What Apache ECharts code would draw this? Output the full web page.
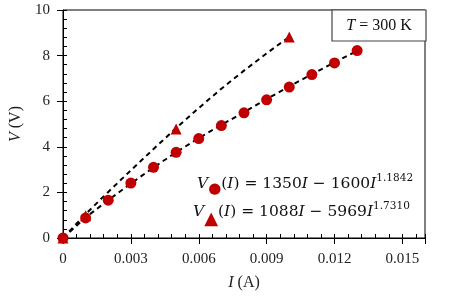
<!DOCTYPE html>
<html>
<head>
<meta charset="utf-8">
<script src="https://cdn.jsdelivr.net/npm/echarts@6/dist/echarts.min.js"></script>
<style>html,body{margin:0;padding:0;background:#fff}#c{width:457px;height:302px}</style>
</head>
<body>
<div id="c"></div>
<script>
// Data
const circleI = [0, 0.001, 0.002, 0.003, 0.004, 0.005, 0.006, 0.007, 0.008, 0.009, 0.010, 0.011, 0.012, 0.013];
const circleV = [0, 0.88, 1.66, 2.41, 3.10, 3.76, 4.36, 4.93, 5.49, 6.06, 6.62, 7.17, 7.68, 8.22];
const triI = [0, 0.001, 0.005, 0.010];
const triV = [0, 0.98, 4.78, 8.82];
const fitCircleI = [0, 0.001, 0.002, 0.003, 0.004, 0.005, 0.006, 0.007, 0.008, 0.009, 0.010, 0.011, 0.012, 0.013];
const fitCircleV = [0, 0.90, 1.66, 2.39, 3.09, 3.76, 4.38, 4.96, 5.52, 6.09, 6.65, 7.18, 7.70, 8.21];
const fitTriI = [0, 0.001, 0.002, 0.003, 0.004, 0.005, 0.006, 0.007, 0.008, 0.009, 0.010];
const fitTriV = [0, 1.05, 2.02, 2.97, 3.90, 4.82, 5.70, 6.55, 7.34, 8.10, 8.82];
const xTickLabels = ['0', '0.003', '0.006', '0.009', '0.012', '0.015'];
const yTickLabels = ['0', '2', '4', '6', '8', '10'];

const RED = '#C00000';
const SERIF = '"Liberation Serif","Times New Roman",serif';
const MATH = '"DejaVu Serif",serif';
const zip = (a, b) => a.map((v, i) => [v, b[i]]);

const chart = echarts.init(document.getElementById('c'), null, {renderer: 'canvas'});
const grid = {left: 63, right: 32, top: 10, bottom: 64, show: true, borderColor: '#000', borderWidth: 1, backgroundColor: 'transparent'};
const xBase = {type: 'value', min: 0, max: 0.016, interval: 0.003, gridIndex: 0, splitLine: {show: false}};
const yBase = {type: 'value', min: 0, max: 10, interval: 2, gridIndex: 0, splitLine: {show: false}};

chart.setOption({
  animation: false,
  grid: grid,
  xAxis: [
    Object.assign({}, xBase, {
      position: 'bottom',
      axisLine: {show: true, lineStyle: {color: '#000', width: 1}},
      axisTick: {show: true, inside: false, length: 6, lineStyle: {color: '#000'}},
      minorTick: {show: false},
      axisLabel: {
        color: '#222', fontFamily: SERIF, fontSize: 15, margin: 14,
        formatter: function (v) { const k = Math.round(v / 0.003); return Math.abs(v - k * 0.003) < 1e-9 && k < xTickLabels.length ? xTickLabels[k] : ''; }
      },
      name: '{i|I} (A)', nameLocation: 'middle', nameGap: 37,
      nameTextStyle: {fontFamily: SERIF, fontSize: 16, color: '#222', rich: {i: {fontStyle: 'italic', fontFamily: SERIF, fontSize: 16, color: '#222'}}}
    }),
    Object.assign({}, xBase, {
      position: 'bottom',
      axisLine: {show: false},
      axisTick: {show: true, inside: true, length: 4, lineStyle: {color: '#000'}},
      minorTick: {show: true, splitNumber: 5, length: 4, lineStyle: {color: '#000'}},
      axisLabel: {show: false}
    })
  ],
  yAxis: [
    Object.assign({}, yBase, {
      position: 'left',
      axisLine: {show: true, lineStyle: {color: '#000', width: 1}},
      axisTick: {show: true, inside: false, length: 6, lineStyle: {color: '#000'}},
      minorTick: {show: false},
      axisLabel: {
        color: '#222', fontFamily: SERIF, fontSize: 15, margin: 13,
        formatter: function (v) { const k = Math.round(v / 2); return yTickLabels[k] || ''; }
      },
      name: '{i|V} (V)', nameLocation: 'middle', nameGap: 36, nameRotate: 90,
      nameTextStyle: {fontFamily: SERIF, fontSize: 16, color: '#222', rich: {i: {fontStyle: 'italic', fontFamily: SERIF, fontSize: 16, color: '#222'}}}
    }),
    Object.assign({}, yBase, {
      position: 'left',
      axisLine: {show: false},
      axisTick: {show: true, inside: true, length: 4, lineStyle: {color: '#000'}},
      minorTick: {show: true, splitNumber: 5, length: 4, lineStyle: {color: '#000'}},
      axisLabel: {show: false}
    })
  ],
  series: [
    {type: 'line', data: zip(fitTriI, fitTriV), showSymbol: false, symbol: 'none', z: 2,
     lineStyle: {color: '#000', width: 2, type: [5, 4]}},
    {type: 'line', data: zip(fitCircleI, fitCircleV), showSymbol: false, symbol: 'none', z: 2,
     lineStyle: {color: '#000', width: 2, type: [5, 4]}},
    {type: 'scatter', data: zip(circleI, circleV), symbol: 'circle', symbolSize: 11, z: 5,
     itemStyle: {color: RED, opacity: 1}},
    {type: 'scatter', data: zip(triI, triV), symbol: 'triangle', symbolSize: 11, z: 6,
     itemStyle: {color: RED, opacity: 1}}
  ],
  graphic: [
    {type: 'rect', shape: {x: 332, y: 10, width: 94, height: 31}, z: 10,
     style: {fill: '#fff', stroke: '#444', lineWidth: 1.2}},
    {type: 'text', x: 379, y: 26, z: 11,
     style: {text: '{i|T} = 300 K', align: 'center', verticalAlign: 'middle', font: '16px ' + SERIF, fill: '#111',
             rich: {i: {fontStyle: 'italic', fontFamily: SERIF, fontSize: 16, fill: '#111'}}}},
    {type: 'text', x: 197, y: 184, z: 11,
     style: {text: '{i|V}{c|●}{n|(}{i|I}{n|) = 1350}{i|I}{n| − 1600}{i|I}{s|1.1842}',
             align: 'left', verticalAlign: 'middle', fill: '#111',
             rich: {
               i: {fontStyle: 'italic', fontFamily: MATH, fontSize: 15.5, fill: '#111'},
               n: {fontFamily: MATH, fontSize: 15.5, fill: '#111'},
               c: {fontFamily: 'DejaVu Sans', fontSize: 15, fill: RED, padding: [10, 0, 0, 0]},
               s: {fontFamily: MATH, fontSize: 10.5, fill: '#111', padding: [0, 0, 11, 0]}
             }}},
    {type: 'text', x: 193, y: 212, z: 11,
     style: {text: '{i|V}{c|▲}{n|(}{i|I}{n|) = 1088}{i|I}{n| − 5969}{i|I}{s|1.7310}',
             align: 'left', verticalAlign: 'middle', fill: '#111',
             rich: {
               i: {fontStyle: 'italic', fontFamily: MATH, fontSize: 15.5, fill: '#111'},
               n: {fontFamily: MATH, fontSize: 15.5, fill: '#111'},
               c: {fontFamily: 'DejaVu Sans', fontSize: 18, fill: RED, padding: [15, 0, 0, 0]},
               s: {fontFamily: MATH, fontSize: 10.5, fill: '#111', padding: [0, 0, 11, 0]}
             }}}
  ]
});
</script>
</body>
</html>
